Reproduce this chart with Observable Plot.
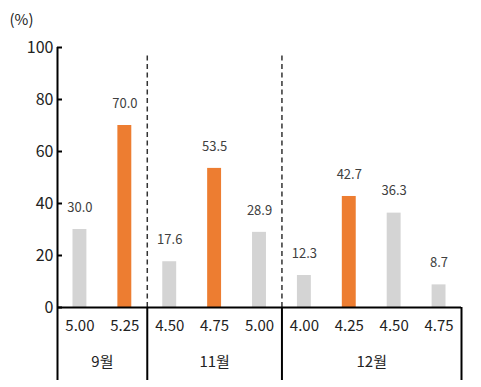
<!DOCTYPE html>
<html><head><meta charset="utf-8">
<script src="https://cdn.jsdelivr.net/npm/d3@7"></script>
<script src="https://cdn.jsdelivr.net/npm/@observablehq/plot@0.6"></script>
<style>body{margin:0;background:#fff}</style>
</head><body><div id="chart"></div>
<script>
const rates = ["5.00","5.25","4.50","4.75","5.00","4.00","4.25","4.50","4.75"];
const values = [30.0,70.0,17.6,53.5,28.9,12.3,42.7,36.3,8.7];
const highlight = [false,true,false,true,false,false,true,false,false];
const groups = ["9월","11월","12월"];
const groupSizes = [2,3,4];
const yTicks = [0,20,40,60,80,100];

const data = values.map((v,i)=>({i, rate: rates[i], value: v, hi: highlight[i]}));
let acc = 0;
const bounds = [0];
const mids = [];
groupSizes.forEach(n => { mids.push(acc + n/2); acc += n; bounds.push(acc); });
const inner = bounds.slice(1,-1);
const half = 0.155;
const font = "'Noto Sans CJK KR', 'Noto Sans', sans-serif";

const plot = Plot.plot({
  width: 481, height: 387,
  marginLeft: 57, marginRight: 20, marginTop: 47, marginBottom: 80,
  style: {fontFamily: font, background: "#fff", overflow: "visible"},
  x: {type: "linear", domain: [0, rates.length], axis: null},
  y: {domain: [0,100], axis: null},
  marks: [
    Plot.rectY(data, {x1: d => d.i + 0.5 - half, x2: d => d.i + 0.5 + half, y: "value",
      fill: d => d.hi ? "#ed7d31" : "#d4d4d4"}),
    Plot.text(data, {x: d => d.i + 0.5, y: "value", text: d => d.value.toFixed(1),
      dy: -22, fontSize: 13, fill: "#404040", lineAnchor: "middle"}),
    Plot.ruleX(inner, {y1: 0, y2: 98, stroke: "#333", strokeWidth: 1.5, strokeDasharray: "5,3.5"}),
    Plot.ruleX([0], {y1: 0, y2: 100, stroke: "#000", strokeWidth: 2}),
    Plot.ruleY([0], {stroke: "#000", strokeWidth: 2}),
    Plot.axisY({ticks: yTicks, tickSize: -5, tickPadding: 9, fontSize: 16, stroke: "#000", strokeWidth: 2, color: "#222", label: null, tickFormat: d => String(d)}),
    Plot.axisX({ticks: bounds, tickSize: 73, tickFormat: () => "", stroke: "#000", strokeWidth: 2, label: null}),
    Plot.axisX({ticks: data.map(d => d.i + 0.5), tickSize: 0, tickPadding: 13, fontSize: 15, color: "#222", label: null,
      tickFormat: t => rates[Math.floor(t)]}),
    Plot.axisX({ticks: mids, tickSize: 0, tickPadding: 49, fontSize: 15, color: "#222", label: null,
      tickFormat: t => groups[mids.indexOf(t)]}),
    Plot.text(["(%)"], {frameAnchor: "top-left", dx: -48, dy: -27, textAnchor: "start", lineAnchor: "middle", fontSize: 15, fill: "#222"})
  ]
});
document.getElementById("chart").appendChild(plot);
</script></body></html>
